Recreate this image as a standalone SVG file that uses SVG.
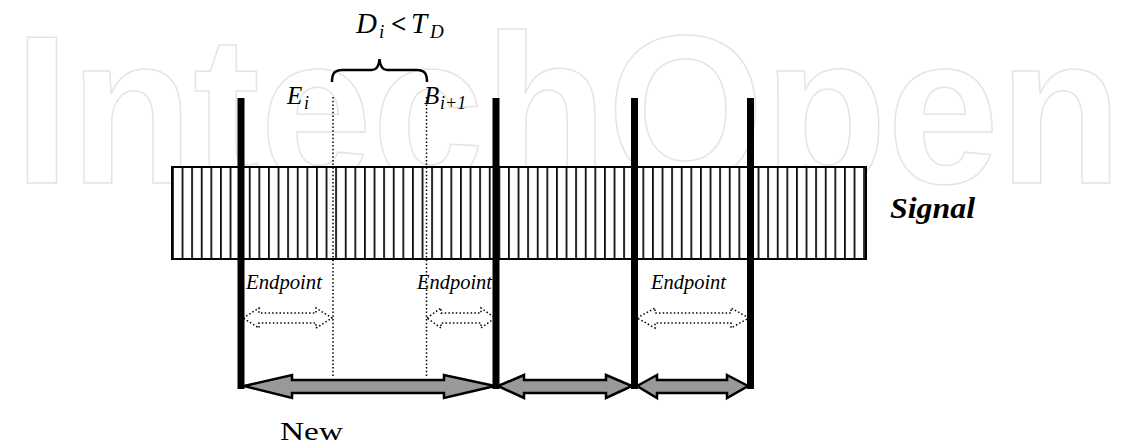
<svg xmlns="http://www.w3.org/2000/svg" width="1140" height="446" viewBox="0 0 1140 446">
  <defs>
    <pattern id="hatch" patternUnits="userSpaceOnUse" x="172" y="0" width="9.6" height="20">
      <rect x="0" y="0" width="9.6" height="20" fill="#fff"/>
      <line x1="0.9" y1="0" x2="0.9" y2="20" stroke="#000" stroke-width="1.7"/>
    </pattern>
    <style>
      .ser { font-family: "Liberation Serif", "DejaVu Serif", serif; fill: #000; }
      .it { font-style: italic; }
      .bar { fill: #000; }
      .dot { fill: none; stroke: #000; stroke-width: 1.5; stroke-dasharray: 1.5 2.2; }
      .garrow { fill: #999; stroke: #000; stroke-width: 2.5; stroke-linejoin: miter; }
      .wm { font-family: "Liberation Sans", Arial, sans-serif; font-weight: bold; fill: none; stroke: #e4e4e4; stroke-width: 1.5; }
    </style>
  </defs>
  <rect width="1140" height="446" fill="#fff"/>

  <g id="watermark">
    <text class="wm" x="14" y="183" font-size="212" textLength="1108" lengthAdjust="spacingAndGlyphs">IntechOpen</text>
  </g>

  <g id="signal">
    <rect x="172" y="167" width="694" height="92" fill="url(#hatch)" stroke="#000" stroke-width="2"/>
    <text class="ser" x="890" y="218" font-size="30" font-weight="bold" font-style="italic" textLength="85" lengthAdjust="spacingAndGlyphs">Signal</text>
  </g>

  <g id="boundaries">
    <rect class="bar" x="237.5" y="98" width="7" height="291"/>
    <rect class="bar" x="492.5" y="98" width="7" height="291"/>
    <rect class="bar" x="631" y="98" width="7" height="291"/>
    <rect class="bar" x="747" y="98" width="7" height="291"/>
  </g>

  <g id="gap">
    <line class="dot" x1="333" y1="97" x2="333" y2="378"/>
    <line class="dot" x1="426.5" y1="97" x2="426.5" y2="378"/>
    <path d="M332,82 C332,74 334,70 342,70 L372,70 C377,70 379,66 379.5,59 C380,66 382,70 387,70 L417,70 C425,70 427,74 427,82" fill="none" stroke="#000" stroke-width="2.5"/>
    <text class="ser it" x="356" y="33" font-size="29">D</text>
    <text class="ser it" x="379" y="38" font-size="19">i</text>
    <text class="ser" x="391" y="33" font-size="27" font-weight="bold">&lt;</text>
    <text class="ser it" x="411" y="33" font-size="29">T</text>
    <text class="ser it" x="430" y="38" font-size="19">D</text>
    <text class="ser it" x="287" y="104" font-size="25">E</text>
    <text class="ser it" x="304" y="109" font-size="18">i</text>
    <text class="ser it" x="424" y="104" font-size="25">B</text>
    <text class="ser it" x="440" y="109" font-size="18">i+1</text>
  </g>

  <g id="endpoint1">
    <text class="ser it" x="246" y="289" font-size="20" textLength="76" lengthAdjust="spacingAndGlyphs">Endpoint</text>
  </g>
  <g id="endpoint2">
    <text class="ser it" x="417" y="289" font-size="20" textLength="75" lengthAdjust="spacingAndGlyphs">Endpoint</text>
  </g>
  <g id="endpoint3">
    <text class="ser it" x="651" y="289" font-size="20" textLength="75" lengthAdjust="spacingAndGlyphs">Endpoint</text>
  </g>

  <g id="connectors">
    <polygon class="dot" points="243,318 259,308 259,313 316,313 316,308 332,318 316,328 316,323 259,323 259,328"/>
    <polygon class="dot" points="427,318 441,308 441,313 481,313 481,308 495,318 481,328 481,323 441,323 441,328"/>
    <polygon class="dot" points="637,318 655,308 655,313 731,313 731,308 749,318 731,328 731,323 655,323 655,328"/>

    <polygon class="garrow" points="244,386 292,375 292,380 444,380 444,375 495,386 444,398 444,393 292,393 292,398"/>
    <polygon class="garrow" points="498,386 524,375 524,380 606,380 606,375 632,386 606,398 606,393 524,393 524,398"/>
    <polygon class="garrow" points="637,386 657,375 657,380 727,380 727,375 748,386 727,398 727,393 657,393 657,398"/>
  </g>

  <g id="new">
    <text class="ser" x="280" y="440" font-size="26" textLength="63" lengthAdjust="spacingAndGlyphs">New</text>
  </g>
</svg>
